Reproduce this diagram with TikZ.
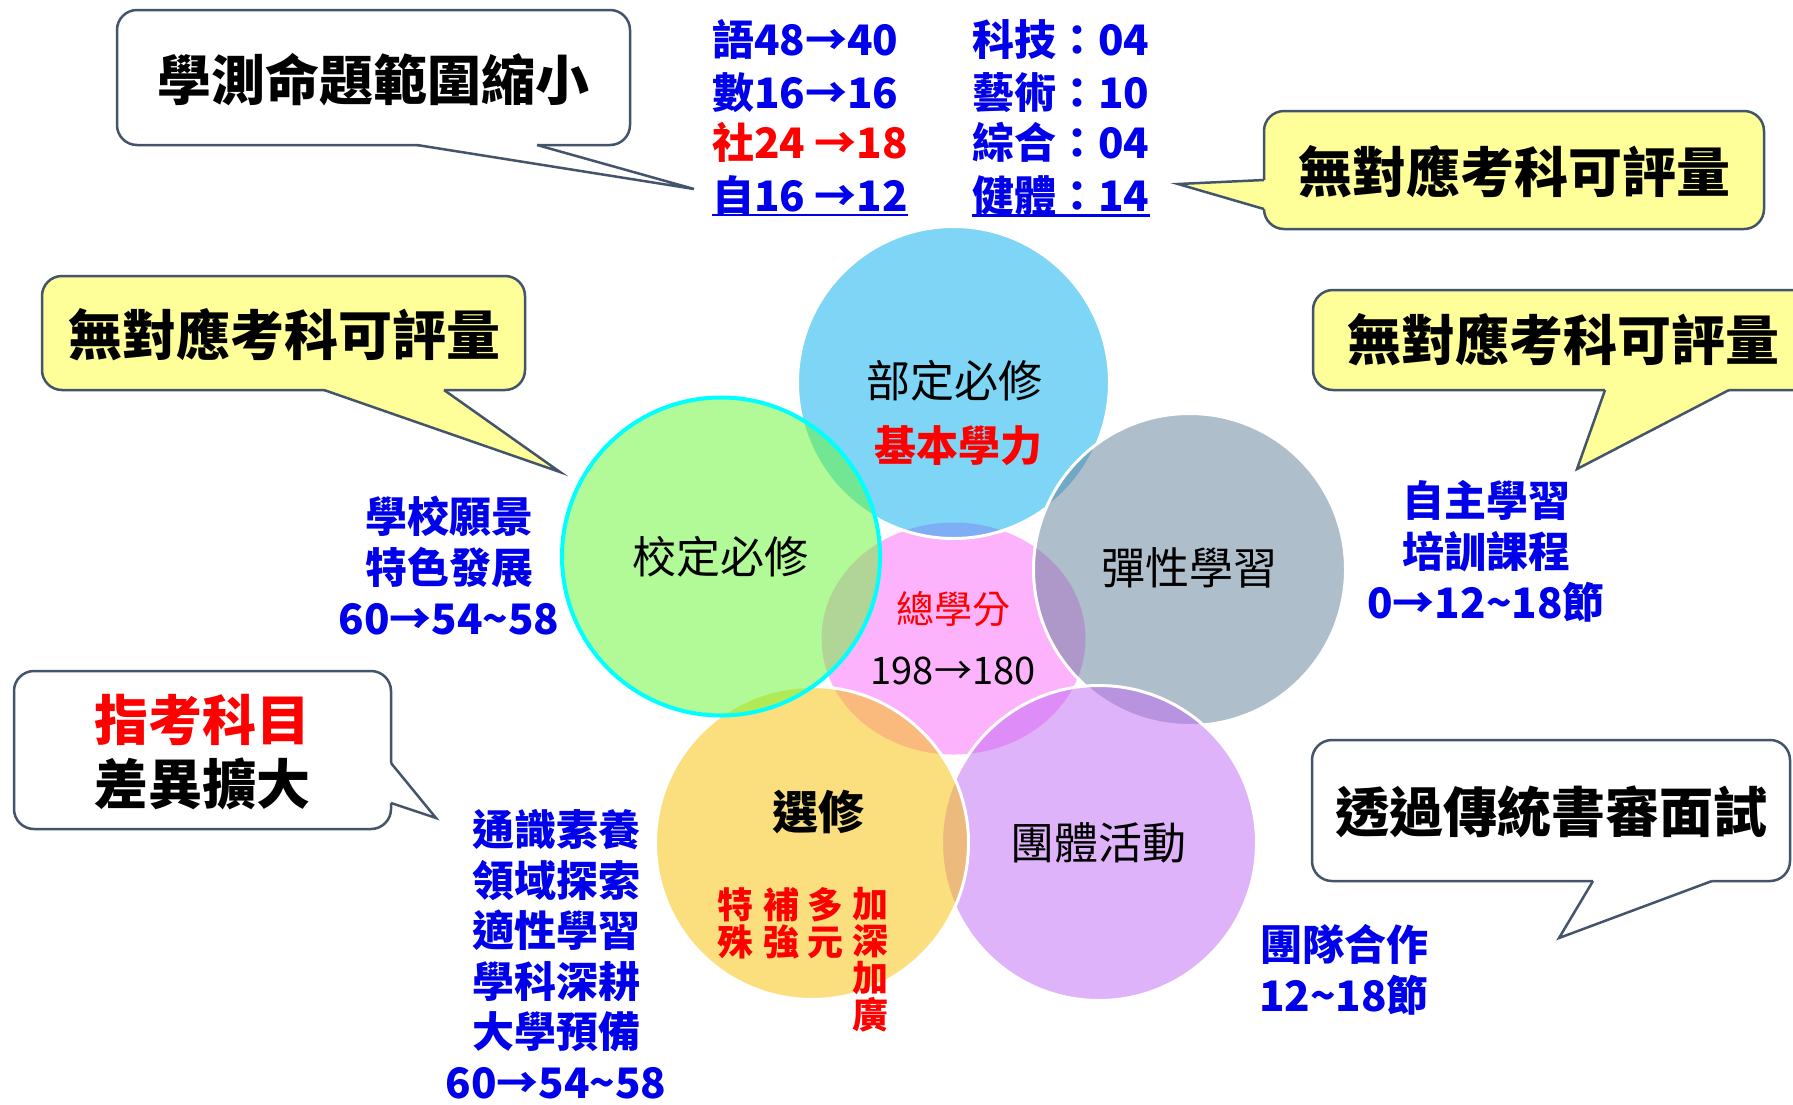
\documentclass[tikz,border=0pt]{standalone}
\usepackage{fontspec}
\setmainfont{Noto Sans CJK TC}
\usetikzlibrary{shapes.geometric}
\definecolor{tblue}{RGB}{0,0,235}
\definecolor{tred}{RGB}{255,0,0}
\definecolor{cpink}{RGB}{251,105,251}
\definecolor{cblue}{RGB}{1,173,237}
\definecolor{cgreen}{RGB}{103,247,49}
\definecolor{cgray}{RGB}{97,127,153}
\definecolor{cpurple}{RGB}{193,105,245}
\definecolor{cyellow}{RGB}{249,193,1}
\definecolor{ccyan}{RGB}{0,255,255}
\definecolor{bord}{RGB}{68,84,106}
\definecolor{callyel}{RGB}{255,255,153}
\newcommand\myfs[2]{\fontsize{#1}{#2}\selectfont}
\begin{document}
\begin{tikzpicture}[x=1pt,y=-1pt,
  venn/.style={circle, inner sep=0pt, minimum size=#1, draw=white, line width=3pt, fill opacity=0.5, draw opacity=1},
  calloutbox/.style={draw=bord, line width=2.5pt, rounded corners=20pt},
  ptr/.style={draw=bord, line width=2.5pt, line join=miter},
  big/.style={font=\myfs{54}{60}\bfseries, text=black, inner sep=0pt},
  lbl/.style={font=\myfs{44}{50}, text=black, inner sep=0pt},
  blu/.style={font=\myfs{42}{51}\bfseries, text=tblue, align=center, inner sep=0pt},
  tab/.style={font=\myfs{42}{51}\bfseries, text=tblue, inner sep=0pt, anchor=base west},
  uline/.style={draw=tblue, line width=2.5pt},
  vert/.style={font=\myfs{36}{37}\bfseries, text=tred, align=center, inner sep=0pt},
]
\useasboundingbox (0,0) rectangle (1793,1104);
\fill[white] (0,0) rectangle (1793,1104);

% ---------- circles ----------
\node[ellipse, inner sep=0pt, minimum width=264pt, minimum height=232pt, fill=cpink, fill opacity=0.5] (pink) at (953.5,638.5) {};
\node[venn=312pt, fill=cblue] (blue) at (953.5,382.5) {};
\node[venn=312pt, fill=cgray] (gray) at (1189.5,569.5) {};
\node[venn=315pt, fill=cpurple] (purple) at (1099,843) {};
\node[venn=313pt, fill=cyellow] (yellow) at (812,843) {};
\node[venn=318pt, fill=cgreen, draw=ccyan, line width=4pt] (green) at (721,556.5) {};

% ---------- circle labels ----------
\node[lbl] (t1) at (954,381) {部定必修};
\node[lbl, font=\myfs{42}{50}\bfseries, text=tred] (t2) at (958,446) {基本學力};
\node[lbl] (t3) at (720,557) {校定必修};
\node[lbl] (t4) at (1189,568) {彈性學習};
\node[lbl, font=\myfs{38}{44}, text=tred] (t5) at (953,609) {總學分};
\node[lbl, font=\myfs{38}{44}] (t6) at (953,671) {198→180};
\node[lbl, font=\myfs{46}{50}\bfseries] (t7) at (818,812) {選修};
\node[lbl] (t8) at (1098,843) {團體活動};
\node[vert] (v1) at (735,923) {特\\殊};
\node[vert] (v2) at (781,923) {補\\強};
\node[vert] (v3) at (825,923) {多\\元};
\node[vert] (v4) at (870,960) {加\\深\\加\\廣};

% ---------- top table ----------
\node[tab] (r1) at (712,55) {語48→40};
\node[tab] (r2) at (712,108) {數16→16};
\node[tab, text=tred] (r3) at (712,158) {社24 →18};
\node[tab] (r4) at (712,211) {自16 →12};
\draw[uline] (r4.south west) -- (r4.south east);
\node[tab] (q1) at (972,55) {科技：04};
\node[tab] (q2) at (972,108) {藝術：10};
\node[tab] (q3) at (972,158) {綜合：04};
\node[tab] (q4) at (972,211) {健體：14};
\draw[uline] (q4.south west) -- (q4.south east);

% ---------- blue side labels ----------
\node[blu] (s1) at (449,566) {學校願景\\特色發展\\60→54\textasciitilde58};
\node[blu] (s2) at (1486,551) {自主學習\\培訓課程\\0→12\textasciitilde18節};
\node[blu, font=\myfs{42}{50.5}\bfseries] (s3) at (556,954) {通識素養\\領域探索\\適性學習\\學科深耕\\大學預備\\60→54\textasciitilde58};
\node[blu] (s4) at (1344,970) {團隊合作\\12\textasciitilde18節};

% ---------- callouts ----------
% C1
\draw[calloutbox, fill=white] (117,10) rectangle (630,145);
\coordinate (p1) at (694,189);
\fill[white] (417,140) -- (417,145) -- (p1) -- (537,145) -- (537,140) -- cycle;
\draw[ptr] (417,145) -- (p1) -- (537,145);
\node[big] (k1) at (373,80) {學測命題範圍縮小};
% C2
\draw[calloutbox, fill=callyel] (1264,111) rectangle (1764,229);
\coordinate (p2) at (1178,184);
\fill[callyel] (1268,180) -- (1264,180) -- (p2) -- (1264,209) -- (1268,209) -- cycle;
\draw[ptr] (1264,180) -- (p2) -- (1264,209);
\node[big] (k2) at (1514,172) {無對應考科可評量};
% C3
\draw[calloutbox, fill=callyel] (42,276) rectangle (525,390);
\coordinate (p3) at (560,472);
\fill[callyel] (324,386) -- (324,390) -- (p3) -- (444,390) -- (444,386) -- cycle;
\draw[ptr] (324,390) -- (p3) -- (444,390);
\node[big] (k3) at (284,335) {無對應考科可評量};
% C4
\draw[calloutbox, fill=callyel] (1313,290) rectangle (1825,390);
\coordinate (p4) at (1577,469);
\fill[callyel] (1605,386) -- (1605,390) -- (p4) -- (1729,390) -- (1729,386) -- cycle;
\draw[ptr] (1605,390) -- (p4) -- (1729,390);
\node[big] (k4) at (1563,340) {無對應考科可評量};
% C5
\draw[calloutbox, fill=white] (14,671) rectangle (391,829);
\coordinate (p5) at (436,818);
\fill[white] (387,763) -- (391,763) -- (p5) -- (391,803) -- (387,803) -- cycle;
\draw[ptr] (391,763) -- (p5) -- (391,803);
\node[big, text=tred] (k5) at (202,720) {指考科目};
\node[big] (k6) at (202,784) {差異擴大};
% C6
\draw[calloutbox, fill=white] (1312,740) rectangle (1790,881);
\coordinate (p6) at (1559,938);
\fill[white] (1593,877) -- (1593,881) -- (p6) -- (1712,881) -- (1712,877) -- cycle;
\draw[ptr] (1593,881) -- (p6) -- (1712,881);
\node[big] (k7) at (1551,812) {透過傳統書審面試};
\end{tikzpicture}
\end{document}
